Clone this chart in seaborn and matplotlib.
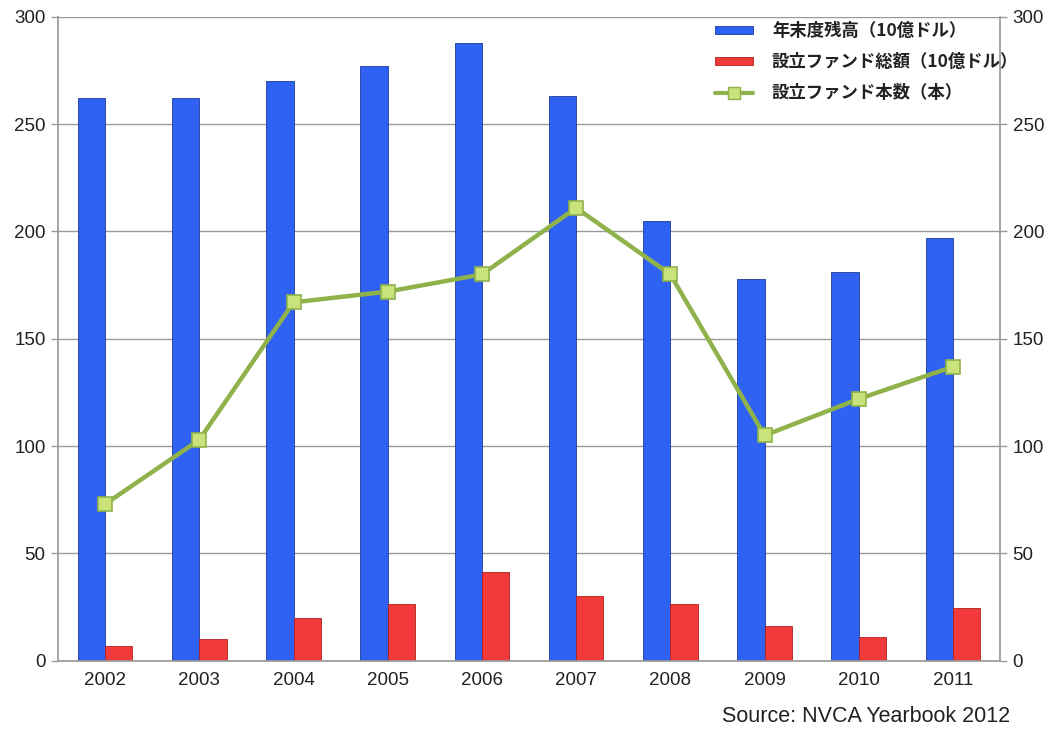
import numpy as np
import pandas as pd
import matplotlib
matplotlib.use("Agg")
import matplotlib.pyplot as plt
from matplotlib.patches import Patch
from matplotlib.lines import Line2D
import seaborn as sns

years = ["2002", "2003", "2004", "2005", "2006", "2007", "2008", "2009", "2010", "2011"]
balance = [262, 262, 270, 277, 288, 263, 205, 178, 181, 197]      # 年末度残高（10億ドル）
raised = [7, 10, 20, 26.5, 41.5, 30, 26.5, 16, 11, 24.5]          # 設立ファンド総額（10億ドル）
fund_count = [73, 103, 167, 172, 180, 211, 180, 105, 122, 137]     # 設立ファンド本数（本）

label_balance = "年末度残高（10億ドル）"
label_raised = "設立ファンド総額（10億ドル）"
label_count = "設立ファンド本数（本）"

sns.set_theme(style="white")
plt.rcParams["font.family"] = ["Noto Sans CJK JP", "DejaVu Sans"]
num_font = ["Liberation Sans", "DejaVu Sans"]

blue = "#2f62f2"
red = "#f23a3a"
green = "#8fb24a"
green_fill = "#c9e27a"
grid_c = "#9a9a9a"
text_c = "#222222"

df = pd.DataFrame({
    "year": years * 2,
    "value": balance + raised,
    "series": [label_balance] * len(years) + [label_raised] * len(years),
})

fig = plt.figure(figsize=(10.56, 7.31), dpi=100)
ax = fig.add_axes([0.055, 0.096, 0.892, 0.881])

sns.barplot(data=df, x="year", y="value", hue="series", ax=ax,
            palette=[blue, red], width=0.58, gap=0, legend=False,
            edgecolor="#1c3c9a", linewidth=0.6, saturation=1)
# darker edge for red bars
for p in ax.patches[len(years):]:
    p.set_edgecolor("#b02020")

ax.set_ylim(0, 300)
ax.set_xlim(-0.5, len(years) - 0.5)
ax.set_yticks(np.arange(0, 301, 50))
ax.yaxis.grid(True, color=grid_c, linewidth=1)
ax.set_axisbelow(True)
ax.set_xlabel("")
ax.set_ylabel("")

ax2 = ax.twinx()
sns.lineplot(x=np.arange(len(years)), y=fund_count, ax=ax2, color=green,
             linewidth=3.2, marker="s", markersize=10,
             markerfacecolor=green_fill, markeredgecolor=green, markeredgewidth=1.2)
ax2.set_ylim(0, 300)
ax2.set_yticks(np.arange(0, 301, 50))
ax2.set_xlim(ax.get_xlim())
ax2.set_ylabel("")

for a in (ax, ax2):
    for s in a.spines.values():
        s.set_visible(False)
    a.tick_params(axis="y", length=5, width=1, color=grid_c, labelsize=13.5,
                  labelcolor=text_c, pad=4)

ax.spines["left"].set_visible(True)
ax.spines["left"].set_color(grid_c)
ax.spines["bottom"].set_visible(True)
ax.spines["bottom"].set_color(grid_c)
ax2.spines["right"].set_visible(True)
ax2.spines["right"].set_color(grid_c)

ax.tick_params(axis="x", which="major", length=0, labelsize=13.5,
               labelcolor=text_c, pad=8)
ax.set_xticks(np.arange(0.5, len(years) - 0.5), minor=True)
ax.tick_params(axis="x", which="minor", length=5, color=grid_c, width=1)

for lab in ax.get_xticklabels() + ax.get_yticklabels() + ax2.get_yticklabels():
    lab.set_family(num_font)

handles = [
    Patch(facecolor=blue, edgecolor="#1c3c9a", linewidth=0.6),
    Patch(facecolor=red, edgecolor="#b02020", linewidth=0.6),
    Line2D([0], [0], color=green, linewidth=3, marker="s", markersize=8,
           markerfacecolor=green_fill, markeredgecolor=green),
]
leg = ax2.legend(handles, [label_balance, label_raised, label_count],
                 loc="upper right", bbox_to_anchor=(1.036, 1.016), frameon=False,
                 fontsize=12.5, handlelength=2.2, handleheight=0.4,
                 labelspacing=0.75, handletextpad=1.1)
for t in leg.get_texts():
    t.set_fontweight("bold")
    t.set_color(text_c)

fig.text(0.957, 0.006, "Source: NVCA Yearbook 2012", ha="right", va="bottom",
         fontsize=15.5, color=text_c, family=num_font)

fig.savefig("out.png", dpi=100)
